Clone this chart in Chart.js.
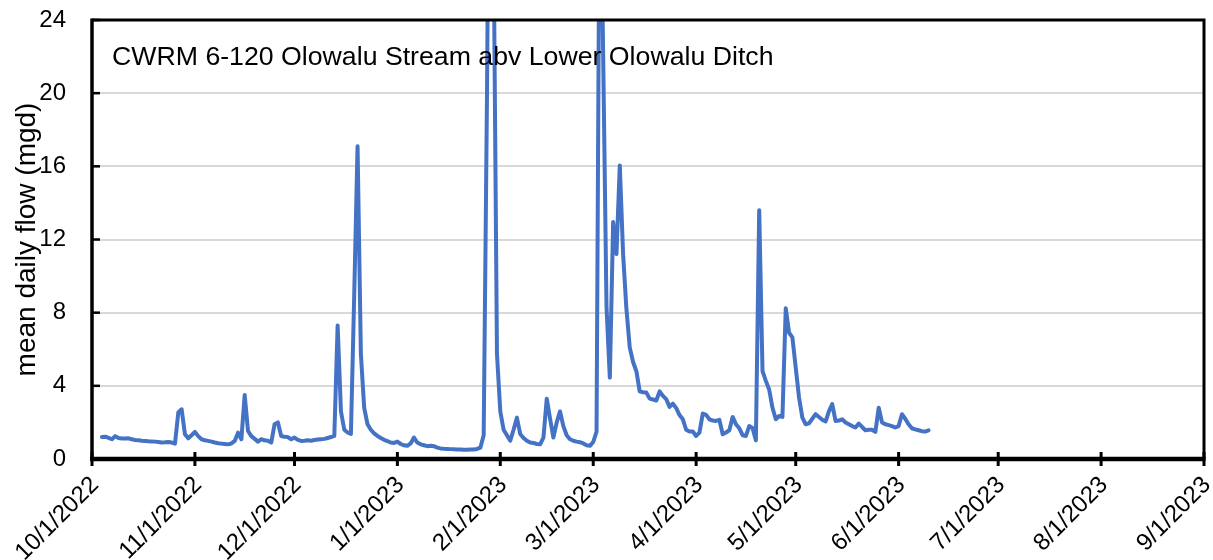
<!DOCTYPE html>
<html>
<head>
<meta charset="utf-8">
<script src="https://cdn.jsdelivr.net/npm/chart.js@4.4.1/dist/chart.umd.min.js"></script>
<style>
  html, body { margin: 0; padding: 0; background: #fff; }
  #wrap { width: 1213px; height: 560px; }
</style>
</head>
<body>
<div id="wrap"><canvas id="flowChart" width="1213" height="560"></canvas></div>
<script>
// ข้อมูลกราฟ
const chartTitle = "CWRM 6-120 Olowalu Stream abv Lower Olowalu Ditch";
const yTitle = "mean daily flow (mgd)";
const axisStart = "10/1/2022";
const firstDay = "10/4/2022";
const monthLabels = [
  "10/1/2022", "11/1/2022", "12/1/2022", "1/1/2023", "2/1/2023", "3/1/2023",
  "4/1/2023", "5/1/2023", "6/1/2023", "7/1/2023", "8/1/2023", "9/1/2023",
];
const yTicks = [0, 4, 8, 12, 16, 20, 24];

// mean daily flow (mgd), one value per day from firstDay
const flow = [
  // Oct - Nov 2022
  1.2, 1.22, 1.15, 1.08, 1.25, 1.15, 1.12, 1.12, 1.13, 1.08,
  1.04, 1.02, 1.0, 0.99, 0.97, 0.96, 0.95, 0.93, 0.9, 0.91,
  0.93, 0.9, 0.84, 2.54, 2.72, 1.35, 1.13, 1.3, 1.48, 1.25,
  1.08, 1.02, 0.99, 0.95, 0.9, 0.86, 0.84, 0.82, 0.8, 0.85,
  0.99, 1.44, 1.08, 3.5, 1.53, 1.25, 1.1, 0.95, 1.08, 1.02,
  1.0, 0.9, 1.9, 2.0, 1.26, 1.22, 1.2, 1.08, 1.17, 1.05, 0.99,
  // Dec 2022 - Jan 2023
  1.0, 1.02, 1.0, 1.04, 1.06, 1.08, 1.1, 1.15, 1.2, 1.26,
  7.3, 2.6, 1.6, 1.45, 1.37, 9.0, 17.1, 5.75, 2.8, 1.9,
  1.6, 1.4, 1.26, 1.15, 1.05, 0.98, 0.9, 0.88, 0.95, 0.82,
  0.75, 0.72, 0.85, 1.17, 0.9, 0.8, 0.75, 0.7, 0.72, 0.7,
  0.62, 0.58, 0.56, 0.55, 0.54, 0.53, 0.52, 0.52, 0.5, 0.51,
  0.52, 0.52, 0.55, 0.62, 1.3,
  // Feb 2023
  20, 45, 28, 5.75, 2.6, 1.6, 1.3, 1.0, 1.6, 2.26,
  1.37, 1.15, 1.0, 0.9, 0.88, 0.82, 0.8, 1.17, 3.3, 2.2,
  1.17, 2.0, 2.6, 1.8, 1.3, 1.08, 1.0, 0.95, 0.92, 0.85,
  0.75, 0.72, 0.93,
  // Mar - Jun 2023
  1.5, 35, 22, 8.3, 4.45, 12.95, 11.2, 16.05, 11.2, 8.2,
  6.1, 5.3, 4.8, 3.7, 3.65, 3.63, 3.3, 3.25, 3.2, 3.7,
  3.45, 3.27, 2.85, 3.03, 2.78, 2.4, 2.17, 1.6, 1.5, 1.5,
  1.26, 1.44, 2.48, 2.41, 2.17, 2.1, 2.08, 2.14, 1.35, 1.45,
  1.57, 2.3, 1.9, 1.68, 1.3, 1.26, 1.8, 1.7, 1.02, 13.6,
  4.8, 4.27, 3.8, 2.8, 2.17, 2.35, 2.3, 8.24, 6.9, 6.65,
  5.0, 3.36, 2.26, 1.9, 1.95, 2.2, 2.45, 2.3, 2.15, 2.05,
  2.6, 3.0, 2.08, 2.1, 2.17, 2.0, 1.9, 1.8, 1.72, 1.94,
  1.75, 1.57, 1.6, 1.6, 1.48, 2.8, 2.0, 1.9, 1.85, 1.8,
  1.72, 1.8, 2.45, 2.2, 1.9, 1.68, 1.62, 1.57, 1.52, 1.5, 1.57,
];

// แปลงวันที่ m/d/yyyy เป็นจำนวนวันนับจาก axisStart
function dayNumber(label) {
  const [m, d, y] = label.split("/").map(Number);
  return Date.UTC(y, m - 1, d) / 86400000;
}
const day0 = dayNumber(axisStart);
const monthDays = monthLabels.map((l) => dayNumber(l) - day0);
const startOffset = dayNumber(firstDay) - day0;
const points = flow.map((v, i) => ({ x: startOffset + i, y: v }));

const FONT = "'Liberation Sans', Arial, sans-serif";

// กรอบ, ขีด tick และชื่อกราฟ
const framePlugin = {
  id: "frame",
  afterDraw(chart) {
    const { ctx, chartArea: a, scales } = chart;
    ctx.save();
    ctx.strokeStyle = "#000";
    ctx.lineCap = "butt";

    ctx.lineWidth = 3;
    ctx.beginPath();
    ctx.moveTo(a.left, a.top);
    ctx.lineTo(a.right, a.top);
    ctx.lineTo(a.right, a.bottom);
    ctx.stroke();

    ctx.lineWidth = 3.5;
    ctx.beginPath();
    ctx.moveTo(a.left, a.top - 1.5);
    ctx.lineTo(a.left, a.bottom);
    ctx.stroke();

    // y ticks point inward
    ctx.lineWidth = 2.5;
    yTicks.forEach((t) => {
      const y = scales.y.getPixelForValue(t);
      ctx.beginPath();
      ctx.moveTo(a.left, y);
      ctx.lineTo(a.left + 8, y);
      ctx.stroke();
    });

    ctx.lineWidth = 4.5;
    ctx.beginPath();
    ctx.moveTo(a.left - 2, a.bottom);
    ctx.lineTo(a.right + 1.5, a.bottom);
    ctx.stroke();

    // x ticks cross the axis
    ctx.lineWidth = 3;
    monthDays.forEach((d) => {
      const x = scales.x.getPixelForValue(d);
      ctx.beginPath();
      ctx.moveTo(x, a.bottom - 7);
      ctx.lineTo(x, a.bottom + 7);
      ctx.stroke();
    });

    ctx.fillStyle = "#000";
    ctx.font = "26.7px " + FONT;
    ctx.textBaseline = "middle";
    ctx.textAlign = "left";
    ctx.fillText(chartTitle, a.left + 20, 58);
    ctx.restore();
  },
};

new Chart(document.getElementById("flowChart").getContext("2d"), {
  type: "line",
  data: {
    datasets: [
      {
        label: "flow",
        data: points,
        borderColor: "#4472C4",
        borderWidth: 4,
        pointRadius: 0,
        tension: 0,
        borderJoinStyle: "round",
        borderCapStyle: "round",
      },
    ],
  },
  options: {
    responsive: false,
    animation: false,
    layout: { padding: { top: 20, right: 9, left: 0, bottom: 0 } },
    plugins: {
      legend: { display: false },
      tooltip: { enabled: false },
    },
    scales: {
      x: {
        type: "linear",
        min: 0,
        max: monthDays[monthDays.length - 1],
        afterBuildTicks: (scale) => {
          scale.ticks = monthDays.map((d) => ({ value: d }));
        },
        afterFit: (scale) => {
          scale.height = 101;
          scale.paddingLeft = 0;
          scale.paddingRight = 0;
        },
        grid: { display: false },
        border: { display: false },
        ticks: {
          autoSkip: false,
          maxRotation: 45,
          minRotation: 45,
          padding: 4,
          labelOffset: 3,
          color: "#000",
          font: { family: FONT, size: 24 },
          callback: (v) => monthLabels[monthDays.indexOf(v)] || "",
        },
      },
      y: {
        min: 0,
        max: 24,
        afterBuildTicks: (scale) => {
          scale.ticks = yTicks.map((t) => ({ value: t }));
        },
        afterFit: (scale) => {
          scale.width = 92;
          scale.paddingTop = 0;
          scale.paddingBottom = 0;
        },
        grid: { color: "#d9d9d9", lineWidth: 2, drawTicks: false },
        border: { display: false },
        ticks: {
          padding: 26,
          color: "#000",
          font: { family: FONT, size: 24 },
        },
        title: {
          display: true,
          text: yTitle,
          color: "#000",
          font: { family: FONT, size: 28 },
          padding: { top: 10, bottom: 0 },
        },
      },
    },
  },
  plugins: [framePlugin],
});
</script>
</body>
</html>
